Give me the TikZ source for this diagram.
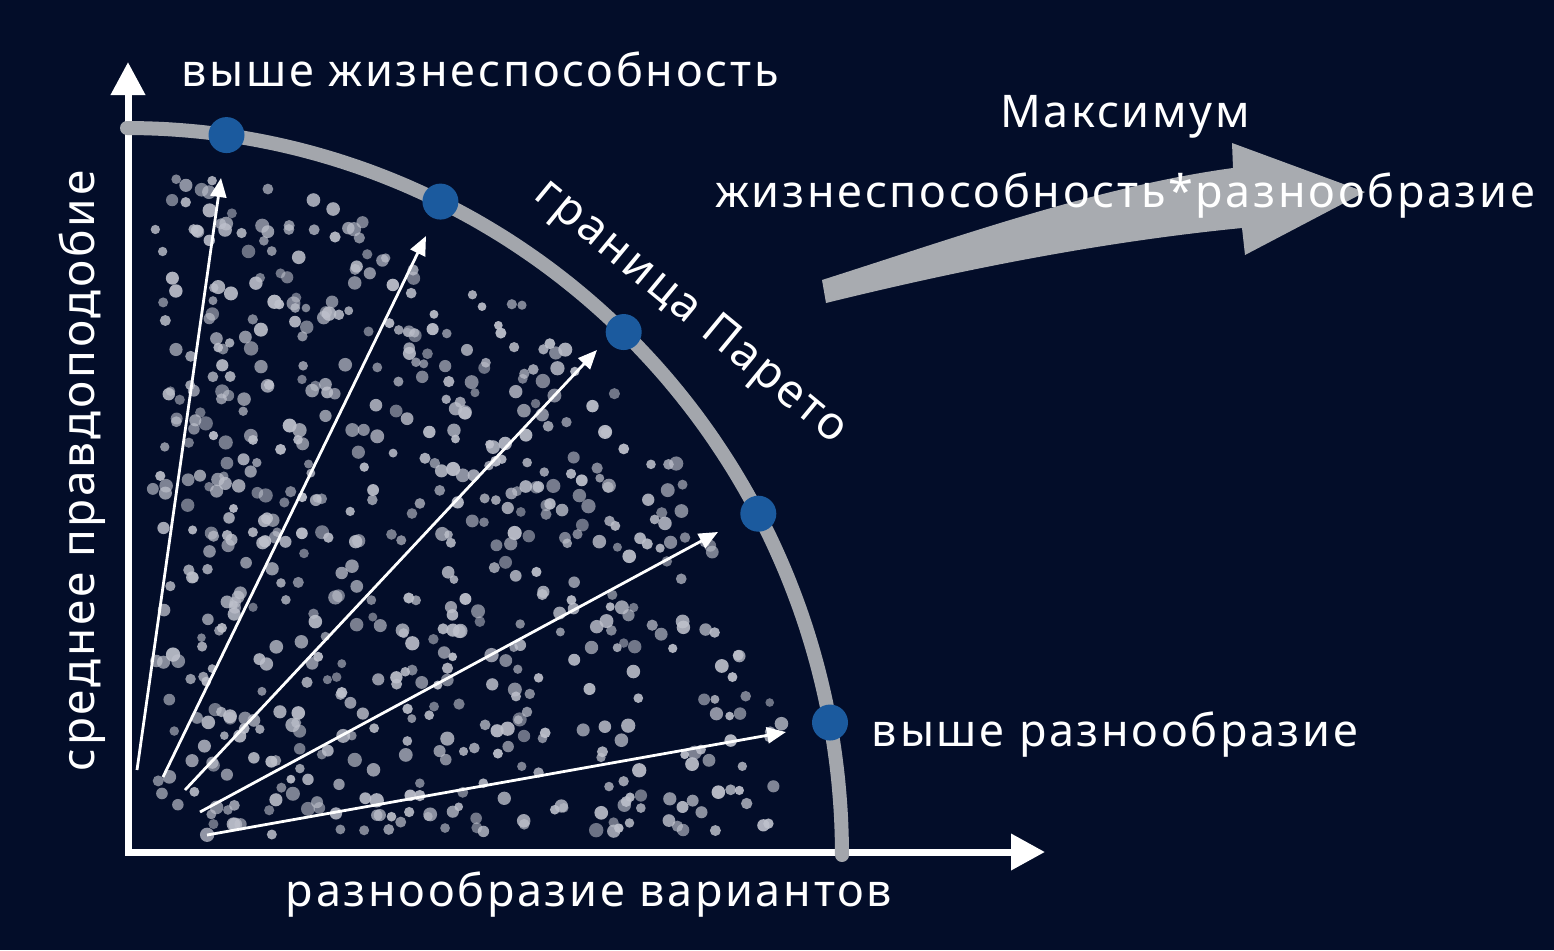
\documentclass[tikz,border=0pt]{standalone}
\usepackage{fontspec}
\setmainfont{Noto Sans}
\newfontfamily\lab[LetterSpace=6]{Noto Sans}
\usetikzlibrary{arrows.meta}
\definecolor{bg}{RGB}{3,13,41}
\definecolor{arcgray}{RGB}{163,166,172}
\definecolor{dotblue}{RGB}{27,90,158}
\definecolor{speck}{RGB}{190,193,204}
\definecolor{bigarrow}{RGB}{168,171,176}
\begin{document}
\begin{tikzpicture}[x=1pt,y=-1pt,
  lbl/.style={text=white,font=\lab\fontsize{45}{52}\selectfont,inner sep=0pt},
  biglbl/.style={text=white,font=\lab\fontsize{46}{54}\selectfont,inner sep=0pt},
  axisline/.style={white,line width=7pt},
  ray/.style={white,line width=2.8pt,-{Triangle[width=16pt,length=19pt]}},
  front/.style={arcgray,line width=14pt,line cap=round},
  pdot/.style={circle,fill=dotblue,minimum size=36pt,inner sep=0pt}]
\fill[bg] (0,0) rectangle (1554,950);
\useasboundingbox (0,0) rectangle (1554,950);

% scattered samples
\pgfmathsetseed{2024}
\foreach \i in {1,...,900}{
  \pgfmathsetmacro\px{152+680*rnd}
  \pgfmathsetmacro\py{165+675*rnd}
  \pgfmathsetmacro\rr{4.3+2.9*rnd}
  \pgfmathsetmacro\op{0.55+0.4*rnd}
  \pgfmathsetmacro\ok{and(((\px-127)/700)^2+((855-\py)/712)^2<0.92,\py<835)}
  \ifdim\ok pt>0.5pt
    \fill[speck,opacity=\op] (\px,\py) circle[radius=\rr pt];
  \fi
}

% big arrow
\fill[bigarrow] (822,280) .. controls (960,236) and (1100,186) .. (1233,168)
  -- (1232,143) -- (1365,192) -- (1245,255) -- (1242,228)
  .. controls (1100,242) and (960,270) .. (826,303) -- cycle;

% axes
\coordinate (O) at (128,852);
\coordinate (ytip) at (128,62);
\coordinate (xtip) at (1045,852);
\draw[axisline,{Triangle[width=33pt,length=33pt]}-{Triangle[width=35pt,length=34pt]}] (ytip) -- (O) -- (xtip);

% rays
\coordinate (s1) at (137,770); \coordinate (e1) at (221,178);
\coordinate (s2) at (163,777); \coordinate (e2) at (426,236);
\coordinate (s3) at (185,790); \coordinate (e3) at (597,350);
\coordinate (s4) at (200,812); \coordinate (e4) at (718,532);
\coordinate (s5) at (207,835); \coordinate (e5) at (786,732);
\foreach \k in {1,...,5}{\draw[ray] (s\k) -- (e\k);}

% Pareto front
\draw[front] plot[domain=0:90,samples=60,smooth] ({127+715*sin(\x)},{855-727*cos(\x)});
\node[pdot] (p1) at ({127+715*sin(8)},{855-727*cos(8)}) {};
\node[pdot] (p2) at ({127+715*sin(26)},{855-727*cos(26)}) {};
\node[pdot] (p3) at ({127+715*sin(44)},{855-727*cos(44)}) {};
\node[pdot] (p4) at ({127+715*sin(62)},{855-727*cos(62)}) {};
\node[pdot] (p5) at ({127+715*sin(79.5)},{855-727*cos(79.5)}) {};

% labels
\node[lbl,anchor=base] (t1) at (480,86) {выше жизнеспособность};
\node[lbl,anchor=base] (t2) at (1125,127) {Максимум};
\node[lbl,anchor=base] (t3) at (1125,207) {жизнеспособность*разнообразие};
\node[lbl,anchor=base] (t4) at (1115,746) {выше разнообразие};
\node[lbl,anchor=base] (t5) at (589,906) {разнообразие вариантов};
\node[biglbl,anchor=base,rotate=90] (t6) at (94,471) {среднее правдоподобие};
\node[biglbl,rotate=-39.5] (t7) at (690,313) {граница Парето};
\end{tikzpicture}
\end{document}
